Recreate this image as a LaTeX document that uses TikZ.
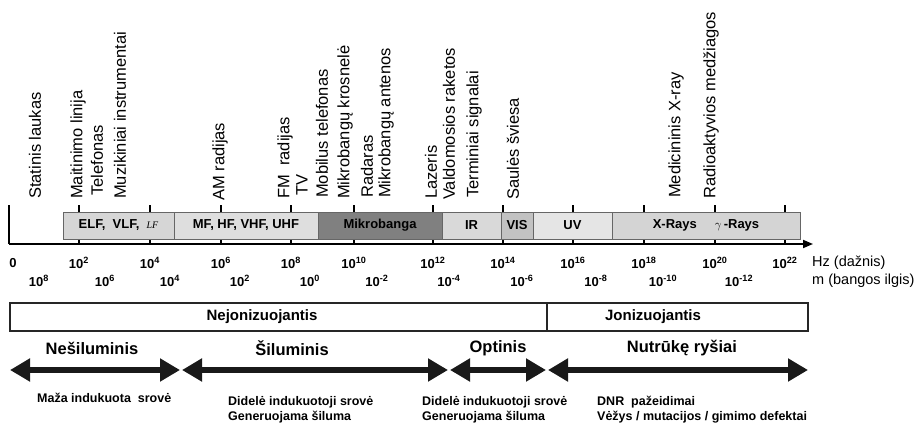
\documentclass[tikz,border=0pt]{standalone}
\usepackage{fontspec}
\setmainfont{Liberation Sans}
\newfontfamily\lfserif{Liberation Serif}
\usetikzlibrary{arrows.meta}

\newcommand{\tp}[1]{10\textsuperscript{#1}}

\begin{document}
\begin{tikzpicture}[x=1pt, y=-1pt, inner sep=0pt,
      band/.style={draw=black!60, line width=0.9pt, minimum height=27pt,
        font=\bfseries\fontsize{13}{15}\selectfont},
      use/.style={rotate=90, anchor=west, font=\fontsize{16.5}{18}\selectfont},
      num/.style={font=\bfseries\fontsize{13}{15}\selectfont},
      unit/.style={anchor=west, font=\fontsize{14.5}{16}\selectfont},
      region/.style={draw=black!85, line width=1.5pt, minimum height=28pt},
      regtext/.style={font=\bfseries\fontsize{15}{17}\selectfont},
      effect/.style={font=\bfseries\fontsize{16.5}{18}\selectfont},
      note/.style={anchor=west, align=left, font=\bfseries\fontsize{12.5}{15}\selectfont},
      sweep/.style={line width=6.5pt, black!90,
        {Triangle[length=20pt,width=22pt]}-{Triangle[length=20pt,width=22pt]}}]
      \useasboundingbox (0,0) rectangle (923,428);
      % uses, rotated
      \node[use] (statinis) at (35,199) {Statinis laukas};
      \node[use] (maitinimo) at (78,199) {Maitinimo linija};
      \node[use] (telefonas) at (97,196) {Telefonas};
      \node[use] (muzika) at (120,199) {Muzikiniai instrumentai};
      \node[use] (am) at (220,201) {AM radijas};
      \node[use] (fm) at (285,199) {FM\ \ radijas};
      \node[use] (tv) at (302,196) {TV};
      \node[use] (mobilus) at (322,198) {Mobilus telefonas};
      \node[use] (krosnele) at (345,199) {Mikrobangų krosnelė};
      \node[use] (radaras) at (367,198) {Radaras};
      \node[use] (antenos) at (386,198) {Mikrobangų antenos};
      \node[use] (lazeris) at (431,199) {Lazeris};
      \node[use] (raketos) at (449,200) {Valdomosios raketos};
      \node[use] (terminiai) at (474,198) {Terminiai signalai};
      \node[use] (saule) at (513,200) {Saulės šviesa};
      \node[use] (medicina) at (676,198) {Medicininis X-ray};
      \node[use] (radioakt) at (711,199) {Radioaktyvios medžiagos};
      % axis and ticks
      \coordinate (origin) at (9,244);
      \coordinate (top) at (9,205);
      \coordinate (axisend) at (813,244);
      \draw[line width=1.6pt] (top) -- (origin);
      \foreach \t in {79,150,221,291,354,433,503,573,644,715,785}
        \draw[line width=1.2pt] (\t,205) -- (\t,244);
      \draw[line width=1.8pt, -{Triangle[length=10pt,width=8pt]}] (origin) -- (axisend);
      % bands
      \node[band, fill=black!16, minimum width=111pt] (elf) at (118.5,225.5)
        {ELF,\ \ VLF,\ \ {\lfserif\itshape\mdseries\fontsize{10}{12}\selectfont LF}};
      \node[band, fill=black!13, minimum width=144pt] (mf) at (246,225.5) {MF, HF, VHF, UHF};
      \node[band, fill=black!50, minimum width=124pt] (mikro) at (380,225.5) {Mikrobanga};
      \node[band, fill=black!15, minimum width=59pt] (ir) at (471.5,225.5) {IR};
      \node[band, fill=black!24, minimum width=32pt] (vis) at (517,225.5) {VIS};
      \node[band, fill=black!10, minimum width=79pt] (uv) at (572.5,225.5) {UV};
      \node[band, fill=black!17, minimum width=188pt] (xray) at (706,225.5)
        {X-Rays\hspace{18pt}$\gamma$\,-Rays};
      % frequency
      \node[num] (f0) at (13,263) {0};
      \node[num] (f2) at (79,263) {\tp{2}};
      \node[num] (f4) at (150,263) {\tp{4}};
      \node[num] (f6) at (221,263) {\tp{6}};
      \node[num] (f8) at (291,263) {\tp{8}};
      \node[num] (f10) at (354,263) {\tp{10}};
      \node[num] (f12) at (433,263) {\tp{12}};
      \node[num] (f14) at (503,263) {\tp{14}};
      \node[num] (f16) at (573,263) {\tp{16}};
      \node[num] (f18) at (644,263) {\tp{18}};
      \node[num] (f20) at (715,263) {\tp{20}};
      \node[num] (f22) at (785,263) {\tp{22}};
      \node[unit] (hz) at (812,263) {Hz (dažnis)};
      % wavelength
      \node[num] (w8) at (39,281) {\tp{8}};
      \node[num] (w6) at (105,281) {\tp{6}};
      \node[num] (w4) at (170,281) {\tp{4}};
      \node[num] (w2) at (240,281) {\tp{2}};
      \node[num] (w0) at (310,281) {\tp{0}};
      \node[num] (wm2) at (377,281) {\tp{-2}};
      \node[num] (wm4) at (449,281) {\tp{-4}};
      \node[num] (wm6) at (522,281) {\tp{-6}};
      \node[num] (wm8) at (596,281) {\tp{-8}};
      \node[num] (wm10) at (663,281) {\tp{-10}};
      \node[num] (wm12) at (739,281) {\tp{-12}};
      \node[unit] (meter) at (812,281) {m (bangos ilgis)};
      % ionizing or not
      \node[region, minimum width=537pt] (nonion) at (278.5,317) {};
      \node[region, minimum width=261pt] (ion) at (677.5,317) {};
      \node[regtext] (nonionlbl) at (262,317) {Nejonizuojantis};
      \node[regtext] (ionlbl) at (653,317) {Jonizuojantis};
      % effects
      \node[effect] (nesil) at (92,348) {Nešiluminis};
      \node[effect] (silum) at (292,348) {Šiluminis};
      \node[effect] (optin) at (498,348) {Optinis};
      \node[effect] (nutruk) at (682,348) {Nutrūkę ryšiai};
      \coordinate (a0) at (10,370);
      \coordinate (a1) at (180,370);
      \coordinate (a2) at (182,370);
      \coordinate (a3) at (448,370);
      \coordinate (a4) at (450,370);
      \coordinate (a5) at (546,370);
      \coordinate (a6) at (548,370);
      \coordinate (a7) at (808,370);
      \draw[sweep] (a0) -- (a1);
      \draw[sweep] (a2) -- (a3);
      \draw[sweep] (a4) -- (a5);
      \draw[sweep] (a6) -- (a7);
      % notes
      \node[note] (maza) at (37,398) {Maža indukuota\ \ srovė};
      \node[note] (didele) at (228,409.5) {Didelė indukuotoji srovė\\Generuojama šiluma};
      \node[note] (didele2) at (422,409.5) {Didelė indukuotoji srovė\\Generuojama šiluma};
      \node[note] (dnr) at (597,409.5) {DNR\ \ pažeidimai\\Vėžys / mutacijos / gimimo defektai};
  \end{tikzpicture}
\end{document}
